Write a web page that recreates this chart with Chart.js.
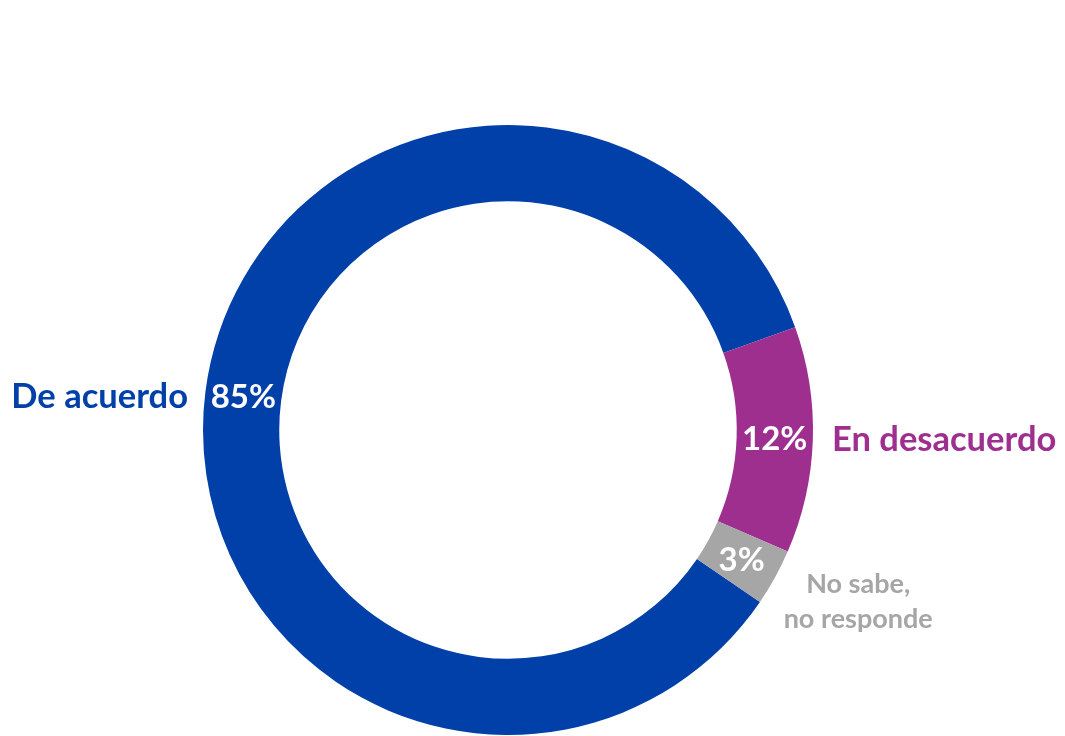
<!DOCTYPE html>
<html>
<head>
<meta charset="utf-8">
<script src="https://cdn.jsdelivr.net/npm/chart.js@4"></script>
<style>
  html, body { margin: 0; padding: 0; background: #fff; }
  #wrap { width: 1065px; height: 736px; position: relative; }
</style>
</head>
<body>
<div id="wrap"><canvas id="grafico-dona"></canvas></div>
<script>
// Datos
var categorias = ['De acuerdo', 'En desacuerdo', 'No sabe,\nno responde'];
var valores = [85, 12, 3];
var etiquetasPct = ['85%', '12%', '3%'];
var colores = ['#0040A8', '#9E2F8F', '#A6A6A6'];

// Etiquetas: porcentaje dentro del anillo, nombre fuera
var pluginEtiquetas = {
    id: 'etiquetas',
    afterDatasetsDraw: function(chart) {
        var ctx = chart.ctx;
        var arcos = chart.getDatasetMeta(0).data;
        ctx.save();
        arcos.forEach(function(arco, i) {
            var p = arco.getProps(['x', 'y', 'startAngle', 'endAngle', 'innerRadius', 'outerRadius'], true);
            var medio = (p.startAngle + p.endAngle) / 2;
            var rMedio = (p.innerRadius + p.outerRadius) / 2;
            var px = p.x + Math.cos(medio) * rMedio;
            var py = p.y + Math.sin(medio) * rMedio + 1;

            // porcentaje
            ctx.fillStyle = '#ffffff';
            ctx.font = 'bold 33px Lato';
            ctx.textAlign = 'center';
            ctx.textBaseline = 'middle';
            ctx.fillText(etiquetasPct[i], px, py);

            // nombre de la categoría
            ctx.fillStyle = colores[i];
            var lineas = categorias[i].split('\n');
            if (lineas.length > 1) {
                ctx.font = 'bold 27px Lato';
                var cx = p.x + Math.cos(medio) * (p.outerRadius + 95);
                var cy = p.y + Math.sin(medio) * (p.outerRadius + 50);
                ctx.textAlign = 'center';
                lineas.forEach(function(l, k) {
                    ctx.fillText(l, cx, cy + (k - (lineas.length - 1) / 2) * 35);
                });
            } else {
                ctx.font = 'bold 34.5px Lato';
                if (Math.cos(medio) < 0) {
                    ctx.textAlign = 'right';
                    ctx.fillText(lineas[0], p.x - p.outerRadius - 15, py);
                } else {
                    ctx.textAlign = 'left';
                    ctx.fillText(lineas[0], p.x + p.outerRadius + 19, py);
                }
            }
        });
        ctx.restore();
    }
};

new Chart(document.getElementById('grafico-dona').getContext('2d'), {
    type: 'doughnut',
    data: {
        labels: categorias,
        datasets: [{
            data: valores,
            backgroundColor: colores,
            borderWidth: 0
        }]
    },
    options: {
        responsive: true,
        maintainAspectRatio: false,
        animation: false,
        cutout: '75%',
        rotation: 124.3,
        layout: { padding: { left: 203, right: 252, top: 125, bottom: 1 } },
        plugins: {
            legend: { display: false },
            tooltip: { enabled: false }
        }
    },
    plugins: [pluginEtiquetas]
});
</script>
</body>
</html>
